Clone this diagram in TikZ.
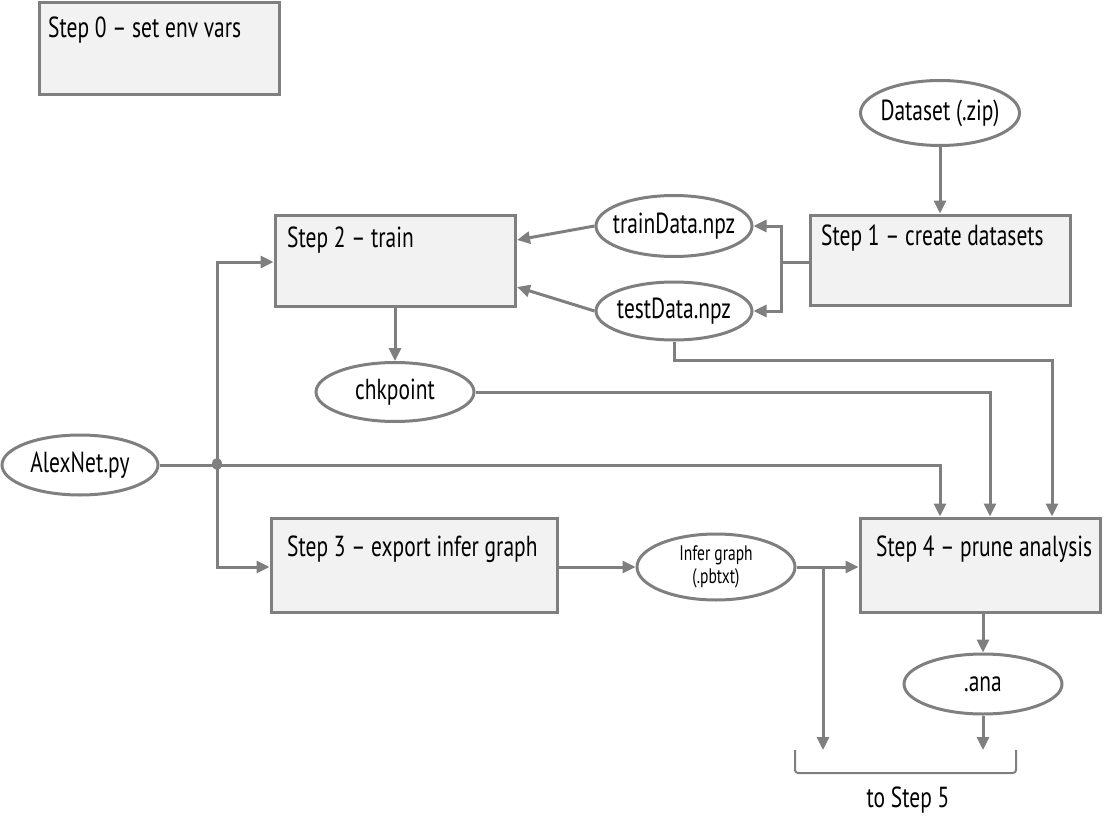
\documentclass[tikz,border=0pt]{standalone}
\usepackage{fontspec}
\setmainfont{PT Sans}[FakeStretch=0.74]
\usetikzlibrary{arrows.meta,shapes.geometric}
\definecolor{lgray}{HTML}{7F7F7F}
\definecolor{boxfill}{HTML}{F2F2F2}
\newcommand{\zw}[1]{\makebox[0pt]{#1}}
\begin{document}
\begin{tikzpicture}[x=1pt,y=-1pt,
  stepbox/.style={draw=lgray,line width=3pt,fill=boxfill,rectangle,inner sep=0pt},
  oval/.style={draw=lgray,line width=3pt,fill=white,ellipse,inner sep=0pt,font=\fontsize{29}{33}\selectfont},
  lbl/.style={anchor=west,inner sep=0pt,font=\fontsize{29}{33}\selectfont},
  conn/.style={draw=lgray,line width=3pt,-{Triangle[length=13pt,width=12pt]}},
  plain/.style={draw=lgray,line width=3pt}]
\useasboundingbox (0,0) rectangle (1109,832);
% boxes
\node[stepbox,minimum width=240,minimum height=92] (s0) at (159,49) {};
\node[lbl] (t0) at (48,30) {Step 0 – set env vars};
\node[stepbox,minimum width=260,minimum height=90] (s1) at (940,260) {};
\node[lbl] (t1) at (821,238) {Step 1 – create datasets};
\node[stepbox,minimum width=240,minimum height=91] (s2) at (395,260.5) {};
\node[lbl] (t2) at (287,240) {Step 2 – train};
\node[stepbox,minimum width=286,minimum height=94] (s3) at (414,565) {};
\node[lbl] (t3) at (287,549) {Step 3 – export infer graph};
\node[stepbox,minimum width=240,minimum height=94] (s4) at (980,565) {};
\node[lbl] (t4) at (876,549) {Step 4 – prune analysis};
% ovals
\node[oval,minimum width=159,minimum height=65] (ds) at (940,113) {\zw{Dataset (.zip)}};
\node[oval,minimum width=156,minimum height=61] (tr) at (674,226) {\zw{trainData.npz}};
\node[oval,minimum width=156,minimum height=58] (te) at (674,311) {\zw{testData.npz}};
\node[oval,minimum width=158,minimum height=59] (ck) at (395,392) {\zw{chkpoint}};
\node[oval,minimum width=156,minimum height=60] (ax) at (80,465) {\zw{AlexNet.py}};
\node[oval,minimum width=158,minimum height=66,align=center,font=\fontsize{21}{23}\selectfont] (ig) at (716,567) {\zw{Infer graph}\\\zw{(.pbtxt)}};
\node[oval,minimum width=158,minimum height=60] (an) at (983,684) {\zw{.ana}};
% helper coordinates
\coordinate (dot) at (217,464);
\coordinate (b1) at (823,750);
\coordinate (b2) at (983,750);
\coordinate (bl) at (795,750);
\coordinate (br) at (1016,750);
% connectors
\draw[conn] (ds) -- (s1.north -| ds);
\draw[plain] (s1.west |- 0,262) -- (781,262);
\draw[conn] (781,262) |- (tr.east);
\draw[conn] (781,262) |- (te.east);
\draw[conn] (tr.west) -- (517,240);
\draw[conn] (te.west) -- (517,287);
\draw[conn] (s2.south) -- (ck.north);
\draw[conn] (te.south) |- (1052,360) -- (s4.north -| 1052,0);
\draw[conn] (ck.east) -| (s4.north -| 990,0);
\draw[conn] (ax.east) -| (s4.north -| 940,0);
\fill[lgray] (dot) ellipse (5 and 6);
\draw[conn] (dot) |- (s2.west |- 0,262);
\draw[conn] (dot) |- (s3.west |- 0,567);
\draw[conn] (s3.east |- ig) -- (ig.west);
\draw[conn] (ig.east) -- (s4.west |- ig);
\draw[conn] (823,567) -- (b1);
\draw[conn] (s4.south -| an) -- (an.north);
\draw[conn] (an.south) -- (b2);
\draw[plain,line width=2pt,rounded corners=3pt] (bl) -- (795,773) -- (1016,773) -- (br);
\node[inner sep=0pt,font=\fontsize{29}{33}\selectfont] (ts5) at (908,800) {to Step 5};
\end{tikzpicture}
\end{document}
